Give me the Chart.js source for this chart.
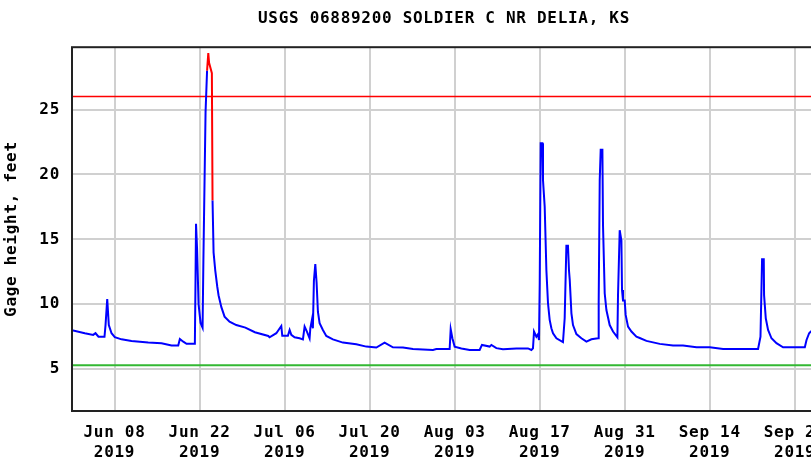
<!DOCTYPE html>
<html>
<head>
<meta charset="utf-8">
<title>USGS 06889200 SOLDIER C NR DELIA, KS</title>
<script src="https://cdn.jsdelivr.net/npm/chart.js@4/dist/chart.umd.min.js"></script>
<style>
  html, body { margin: 0; padding: 0; background: #fff; overflow: hidden; }
  #wrap { width: 888px; height: 464px; }
</style>
</head>
<body>
<div id="wrap"><canvas id="gage" width="888" height="464"></canvas></div>
<script>
const stationTitle = "USGS 06889200 SOLDIER C NR DELIA, KS";

// time in days since Jun 01 2019 00:00, gage height in feet
const obsDays = [
  0, 2.11, 3.49, 3.87, 4.36, 5.35, 5.52, 5.80, 6.06, 6.51, 7.05, 8.15, 9.80, 12.55, 14.74,
  16.39, 17.49, 17.76, 18.32, 18.86, 20.23, 20.34, 20.42, 20.59, 20.84, 21.17, 21.50, 21.64,
  21.99, 22.24, 22.44, 22.57, 23.03, 23.14, 23.31, 23.59, 23.92, 24.13, 24.58, 25.12, 25.94,
  27.05, 28.55, 30.11, 32.32,
  32.53, 33.64, 34.46, 34.62, 35.55, 35.83, 36.11, 36.65, 37.47, 38.02, 38.30, 38.68, 39.12,
  39.24, 39.50, 39.66, 39.83, 40.06, 40.27, 40.49, 40.77, 41.31, 41.87, 42.96, 44.61, 46.81,
  48.46, 50.11, 51.47, 52.84, 54.49, 56.14, 59.43, 59.99, 62.18, 62.35, 62.63, 63.00, 64.11,
  65.48, 67.12, 67.50, 68.77, 69.05, 69.87, 70.96, 73.17,
  73.71, 75.08, 75.64, 75.90, 76.07, 76.46, 76.73, 76.89, 77.01, 77.17, 77.45, 77.55, 77.83,
  78.11, 78.37, 78.65, 78.93, 79.20, 79.76, 80.84, 81.12, 81.40, 81.66, 81.83, 81.95, 82.23,
  82.49, 83.05, 83.87, 84.70, 85.52, 86.61, 86.72, 86.89, 87.05, 87.33, 87.43, 87.71, 87.99,
  88.53, 89.08, 89.80, 89.90, 90.18, 90.46, 90.56, 90.72, 91.00, 91.16, 91.55, 92.11, 92.93,
  93.48,
  94.58, 96.77, 98.96, 100.61, 102.82, 105.01, 107.20, 112.96, 113.36, 113.62, 113.90, 113.95,
  114.23, 114.61, 115.17, 115.99, 117.08, 120.66, 120.94, 121.37, 121.65, 122.5
];
const gageFeet = [
  8.0, 7.77, 7.64, 7.77, 7.5, 7.5, 8.4, 10.4, 8.4, 7.77, 7.46, 7.3, 7.18, 7.05, 7.0,
  6.82, 6.82, 7.33, 7.12, 6.95, 6.95, 12.0, 16.2, 14.3, 10.0, 8.56, 8.2, 13.6,
  24.8, 28.0, 29.35, 28.6, 27.8, 18.0, 14.0, 12.6, 11.35, 10.7, 9.8, 9.05, 8.66,
  8.4, 8.2, 7.85, 7.56,
  7.46, 7.77, 8.33, 7.58, 7.58, 8.02, 7.64, 7.46, 7.38, 7.3, 8.28, 7.9, 7.38,
  8.15, 8.8, 8.15, 11.8, 13.1, 11.7, 9.43, 8.54, 8.02, 7.56, 7.3, 7.05, 6.92,
  6.74, 6.67, 7.05, 6.69, 6.67, 6.56, 6.48, 6.56, 6.56, 8.08, 7.38, 6.74, 6.6,
  6.48, 6.48, 6.87, 6.74, 6.87, 6.62, 6.54, 6.6,
  6.6, 6.6, 6.48, 6.6, 7.9, 7.5, 7.7, 7.25, 11.6, 22.4, 22.4, 19.56, 17.5,
  12.6, 10.1, 8.8, 8.15, 7.77, 7.38, 7.08, 8.92, 14.5, 14.5, 12.6, 11.9, 9.3,
  8.4, 7.7, 7.38, 7.12, 7.3, 7.38, 10.1, 19.56, 21.9, 21.9, 16.1, 10.85, 9.56,
  8.4, 7.9, 7.46, 10.7, 15.7, 14.9, 11.1, 10.3, 10.3, 9.18, 8.28, 7.9, 7.5,
  7.4,
  7.18, 6.95, 6.82, 6.82, 6.69, 6.69, 6.56, 6.56, 7.5, 13.46, 13.46, 10.7,
  8.92, 8.02, 7.38, 7.0, 6.69, 6.69, 7.25, 7.77, 7.9, 7.9
];

const tickDays = [7, 21, 35, 49, 63, 77, 91, 105, 119];
const tickDates = ["Jun 08", "Jun 22", "Jul 06", "Jul 20", "Aug 03", "Aug 17", "Aug 31", "Sep 14", "Sep 28"];
const tickYear = "2019";
const yTicks = [5, 10, 15, 20, 25];

const floodStage = 26;    // red line
const lowStage = 5.3;     // green line
const dayMin = 0;
const dayMax = 122.5;

const monoFont = { family: "'DejaVu Sans Mono', monospace", size: 16, weight: "bold", lineHeight: 1.25 };

const points = obsDays.map((d, i) => ({ x: d, y: gageFeet[i] }));

// frame around the plot area
const plotFrame = {
  id: "plotFrame",
  beforeDraw(chart) {
    chart.ctx.letterSpacing = "0.7px";
  },
  afterDraw(chart) {
    const a = chart.chartArea;
    const ctx = chart.ctx;
    ctx.save();
    ctx.strokeStyle = "#222";
    ctx.lineWidth = 2;
    ctx.strokeRect(a.left, a.top, a.right - a.left, a.bottom - a.top);
    ctx.restore();
  }
};

new Chart(document.getElementById("gage"), {
  type: "line",
  data: {
    datasets: [
      {
        label: "Gage height",
        data: points,
        borderColor: "#0000ff",
        borderWidth: 2,
        pointRadius: 0,
        tension: 0,
        segment: {
          borderColor: ctx => ctx.p0.parsed.y > floodStage ? "#ff0000" : "#0000ff"
        },
        order: 1
      },
      {
        label: "Flood stage",
        data: [{ x: dayMin, y: floodStage }, { x: dayMax, y: floodStage }],
        borderColor: "#ff0000",
        borderWidth: 1.5,
        pointRadius: 0,
        order: 2
      },
      {
        label: "Low",
        data: [{ x: dayMin, y: lowStage }, { x: dayMax, y: lowStage }],
        borderColor: "#33b833",
        borderWidth: 2,
        pointRadius: 0,
        order: 2
      }
    ]
  },
  options: {
    responsive: false,
    animation: false,
    layout: { padding: 0 },
    plugins: {
      legend: { display: false },
      tooltip: { enabled: false },
      title: {
        display: true,
        text: stationTitle,
        color: "#000",
        font: { family: monoFont.family, size: 16, weight: "bold", lineHeight: 1.2 },
        padding: { top: 9, bottom: 19 }
      }
    },
    scales: {
      x: {
        type: "linear",
        min: dayMin,
        max: dayMax,
        afterBuildTicks: s => { s.ticks = tickDays.map(v => ({ value: v })); },
        afterFit: s => { s.height = 53; },
        grid: { color: "#d0d0d0", lineWidth: 2, drawTicks: false },
        border: { display: false },
        ticks: {
          autoSkip: false,
          maxRotation: 0,
          padding: 12,
          color: "#000",
          font: monoFont,
          callback: v => [tickDates[tickDays.indexOf(v)], tickYear]
        }
      },
      y: {
        min: 1.78,
        max: 29.8,
        afterBuildTicks: s => { s.ticks = yTicks.map(v => ({ value: v })); },
        afterFit: s => { s.width = 72; },
        grid: { color: "#d0d0d0", lineWidth: 2, drawTicks: false },
        border: { display: false },
        ticks: { padding: 12, color: "#000", font: monoFont },
        title: {
          display: true,
          text: "Gage height, feet",
          color: "#000",
          font: { family: monoFont.family, size: 16, weight: "bold", lineHeight: 1.2 },
          padding: { top: 2, bottom: 0 }
        }
      },
      // empty right-hand axis that only reserves space past the plot
      yRight: {
        position: "right",
        min: 1.78,
        max: 29.8,
        afterFit: s => { s.width = 72; },
        grid: { drawOnChartArea: false, drawTicks: false },
        border: { display: false },
        ticks: { display: false }
      }
    }
  },
  plugins: [plotFrame]
});
</script>
</body>
</html>
